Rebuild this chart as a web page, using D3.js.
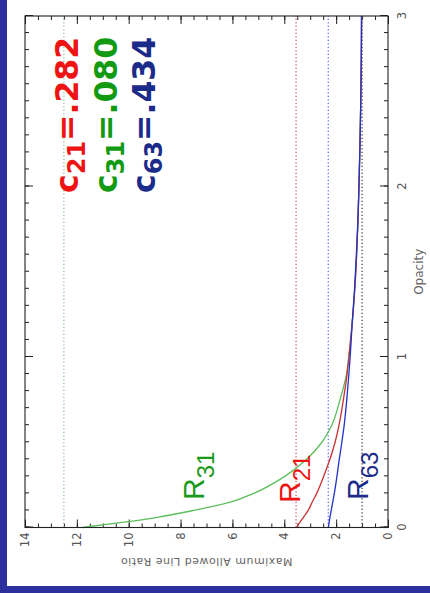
<!DOCTYPE html>
<html>
<head>
<meta charset="utf-8">
<script src="https://cdn.jsdelivr.net/npm/d3@7"></script>
<style>
  html, body { margin: 0; padding: 0; background: #2d2f9f; }
  svg { display: block; }
</style>
</head>
<body>
<script>
// Optical depth samples and the maximum allowed line ratio for each transition pair
const opacity = [0, 0.03, 0.06, 0.1, 0.15, 0.2, 0.3, 0.4, 0.5, 0.6, 0.75, 0.9, 1.0, 1.2, 1.4, 1.6, 1.8, 2.0, 2.25, 2.5, 2.75, 3.0];
const r31 = [11.8, 10.25, 8.9, 7.5, 6.05, 5.18, 3.98, 3.14, 2.55, 2.17, 1.85, 1.60, 1.51, 1.38, 1.28, 1.21, 1.16, 1.12, 1.08, 1.05, 1.03, 1.02];
const r21 = [3.53, 3.40, 3.26, 3.08, 2.92, 2.75, 2.48, 2.24, 2.04, 1.89, 1.72, 1.58, 1.51, 1.38, 1.28, 1.21, 1.16, 1.12, 1.08, 1.05, 1.03, 1.02];
const r63 = [2.30, 2.27, 2.24, 2.19, 2.13, 2.07, 1.97, 1.88, 1.78, 1.69, 1.59, 1.51, 1.46, 1.38, 1.29, 1.22, 1.16, 1.12, 1.08, 1.05, 1.03, 1.02];

// Coefficients c_ij; the optically thin limit of each ratio is 1 / c_ij
const pairs = ["21", "31", "63"];
const coeffs = [0.282, 0.080, 0.434];
const thickLimit = 1.0;

// Axis ticks
const opacityTicks = [0, 1, 2, 3];
const opacityMinor = d3.range(0, 31).map(i => i / 10);
const ratioTicks = [0, 2, 4, 6, 8, 10, 12, 14];
const ratioMinor = d3.range(0, 29).map(i => i / 2);

const colors = {
  "21": { curve: "#c83232", dots: "#c85050", text: "#ee1414" },
  "31": { curve: "#5cbf5c", dots: "#8cbf8c", text: "#139a13" },
  "63": { curve: "#2233cc", dots: "#5566e6", text: "#1c2a8a" }
};

const series = [
  { key: "31", values: r31 },
  { key: "21", values: r21 },
  { key: "63", values: r63 }
];

const W = 511.5, H = 363;
const svg = d3.select("body").append("svg").attr("width", 430).attr("height", 593);
svg.append("rect").attr("width", 430).attr("height", 593).attr("fill", "#2d2f9f");
svg.append("rect").attr("x", 7).attr("y", 0).attr("width", 423).attr("height", 586).attr("fill", "#ffffff");

// The plot is laid out in landscape and turned a quarter-turn onto the page
const g = svg.append("g").attr("transform", "translate(25,527.5) rotate(-90)");

const x = d3.scaleLinear().domain([0, 3]).range([0, W]);
const y = d3.scaleLinear().domain([0, 14]).range([H, 0]);

const axisFont = "'DejaVu Sans', sans-serif";
function addAxis(axis, transform) {
  const a = g.append("g").attr("transform", transform).call(axis);
  a.select(".domain").remove();
  a.selectAll("line").attr("stroke", "#222").attr("stroke-width", 1);
  a.selectAll("text").attr("fill", "#555").style("font-family", axisFont).style("font-size", "11.5px");
  return a;
}

// minor ticks, all four sides
addAxis(d3.axisBottom(x).tickValues(opacityMinor).tickSize(-4).tickFormat(""), `translate(0,${H})`);
addAxis(d3.axisTop(x).tickValues(opacityMinor).tickSize(-4).tickFormat(""), "translate(0,0)");
addAxis(d3.axisLeft(y).tickValues(ratioMinor).tickSize(-4).tickFormat(""), "translate(0,0)");
addAxis(d3.axisRight(y).tickValues(ratioMinor).tickSize(-4).tickFormat(""), `translate(${W},0)`);
// major ticks
addAxis(d3.axisBottom(x).tickValues(opacityTicks).tickSize(-8).tickPadding(10).tickFormat(d3.format("d")), `translate(0,${H})`);
addAxis(d3.axisTop(x).tickValues(opacityTicks).tickSize(-8).tickFormat(""), "translate(0,0)");
addAxis(d3.axisLeft(y).tickValues(ratioTicks).tickSize(-8).tickPadding(5).tickFormat(d3.format("d")), "translate(0,0)");
addAxis(d3.axisRight(y).tickValues(ratioTicks).tickSize(-8).tickFormat(""), `translate(${W},0)`);

// axis titles
g.append("text")
  .attr("x", W / 2).attr("y", H + 35)
  .attr("text-anchor", "middle")
  .attr("fill", "#666")
  .style("font-family", axisFont).style("font-size", "12px")
  .text("Opacity");
g.append("text")
  .attr("transform", `translate(-30.5,${H / 2}) rotate(-90)`)
  .attr("text-anchor", "middle")
  .attr("fill", "#666")
  .style("font-family", axisFont).style("font-size", "11px").style("letter-spacing", "0.5px")
  .text("Maximum Allowed Line Ratio");

// limits: thin (1/c) and thick (1)
const limits = pairs.map((p, i) => ({ key: p, value: 1 / coeffs[i], color: colors[p].dots }));
limits.push({ key: "thick", value: thickLimit, color: "#333" });
g.selectAll("line.limit").data(limits).join("line")
  .attr("class", "limit")
  .attr("x1", x(0)).attr("x2", x(3))
  .attr("y1", d => y(d.value)).attr("y2", d => y(d.value))
  .attr("stroke", d => d.color)
  .attr("stroke-width", 1.2)
  .attr("stroke-dasharray", "1.2 2.3");

// ratio curves
const line = d3.line()
  .x((d, i) => x(opacity[i]))
  .y(d => y(d))
  .curve(d3.curveMonotoneX);
g.selectAll("path.ratio").data(series).join("path")
  .attr("class", "ratio")
  .attr("d", d => line(d.values))
  .attr("fill", "none")
  .attr("stroke", d => colors[d.key].curve)
  .attr("stroke-width", 1.3);

// frame
g.append("rect").attr("width", W).attr("height", H)
  .attr("fill", "none").attr("stroke", "#222").attr("stroke-width", 1.1);

// curve labels R_ij
const curveLabels = [
  { key: "31", u: 27.5, v: 179 },
  { key: "21", u: 24.5, v: 275 },
  { key: "63", u: 27.5, v: 343 }
];
curveLabels.forEach(l => {
  const t = g.append("text")
    .attr("x", l.u).attr("y", l.v)
    .attr("fill", l.key === "21" ? "#ee1414" : colors[l.key].text === "#139a13" ? "#1a9a1a" : colors[l.key].text)
    .style("font-family", "'Liberation Sans', Arial, sans-serif");
  t.append("tspan").style("font-size", "30px").text("R");
  t.append("tspan").style("font-size", "24px").attr("dy", 10).text(l.key);
});

// coefficient labels c_ij = value
const coeffLabels = [{ v: 53 }, { v: 92 }, { v: 130 }];
pairs.forEach((p, i) => {
  const t = g.append("text")
    .attr("x", 334.5).attr("y", coeffLabels[i].v)
    .attr("fill", colors[p].text)
    .style("font-family", "'DejaVu Sans', sans-serif")
    .style("font-weight", "bold");
  t.append("tspan").style("font-size", "31.5px").text("c");
  t.append("tspan").style("font-size", "24px").attr("dy", 7).text(p);
  t.append("tspan").style("font-size", "31.5px").attr("dy", -7)
    .text("=" + d3.format(".3f")(coeffs[i]).replace(/^0/, ""));
});
</script>
</body>
</html>
